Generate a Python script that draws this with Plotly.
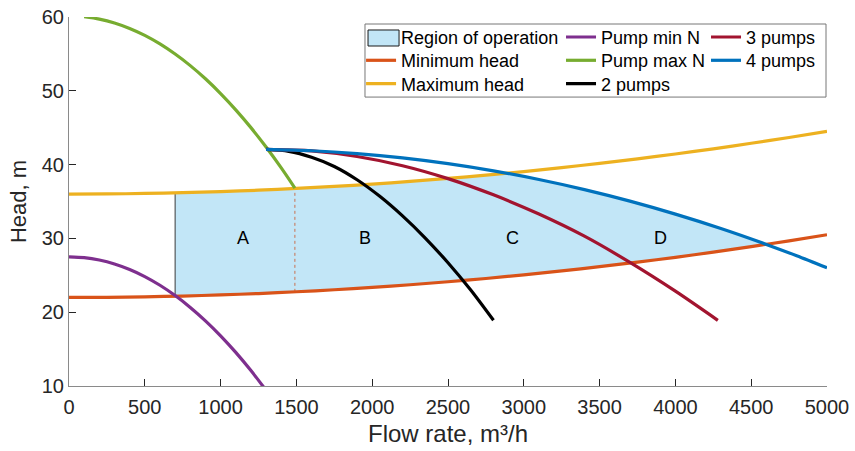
import plotly.graph_objects as go

FONT = "Liberation Sans, Arial, Helvetica, sans-serif"
TXT = "#262626"
AXIS = "#8a8a8a"
REGION_FILL = "rgb(194,230,247)"

# System curves (head limits) sampled along the flow axis, m3/h -> m
SYS_Q = [0, 250, 500, 750, 1000, 1250, 1500, 1750, 2000, 2250, 2500,
         2750, 3000, 3250, 3500, 3750, 4000, 4250, 4500, 4750, 5000]
MAX_HEAD = [36.00, 36.02, 36.09, 36.19, 36.34, 36.53, 36.77, 37.04, 37.36, 37.72, 38.13,
            38.57, 39.06, 39.59, 40.17, 40.78, 41.44, 42.14, 42.89, 43.67, 44.50]
MIN_HEAD = [22.00, 22.02, 22.09, 22.19, 22.34, 22.53, 22.77, 23.04, 23.36, 23.72, 24.13,
            24.57, 25.06, 25.59, 26.17, 26.78, 27.44, 28.14, 28.89, 29.67, 30.50]

# Single pump at minimum and maximum speed
PMIN_Q = [0, 100, 200, 300, 400, 500, 600, 700, 800, 900, 1000, 1100, 1200, 1300]
PMIN_H = [27.5, 27.39, 27.07, 26.54, 25.79, 24.83, 23.65, 22.26, 20.65, 18.83, 16.80, 14.55, 12.09, 9.42]
PMAX_Q = [100, 200, 300, 400, 500, 600, 700, 800, 900, 1000, 1100, 1200, 1300, 1400, 1490]
PMAX_H = [60.03, 59.71, 59.19, 58.45, 57.51, 56.35, 54.98, 53.41, 51.63, 49.63, 47.42, 45.01, 42.38, 39.55, 36.82]

# Parallel operation
P2_Q = [1300, 1450, 1600, 1750, 1900, 2050, 2200, 2350, 2500, 2650, 2800]
P2_H = [42.05, 41.8, 41.0, 39.75, 37.95, 35.7, 33.05, 30.05, 26.7, 23.0, 18.9]
P3_Q = [1300, 1600, 1900, 2200, 2500, 2800, 3100, 3400, 3700, 4000, 4280]
P3_H = [42.05, 41.85, 41.1, 39.85, 38.1, 35.9, 33.3, 30.3, 26.75, 22.85, 18.9]
P4_Q = [1300, 1600, 1900, 2200, 2500, 2800, 3100, 3400, 3700, 4000, 4300, 4600, 4800, 5000]
P4_H = [42.07, 41.88, 41.49, 40.91, 40.13, 39.15, 37.98, 36.61, 35.05, 33.29, 31.34, 29.19, 27.65, 26.02]

# Operating region corners
LEFT_Q, LEFT_LOW, LEFT_HIGH = 700, 22.17, 36.17
TOP_Q, TOP_H = 2890, 38.84
RIGHT_Q, RIGHT_H = 4600, 29.19
DIV_Q, DIV_LOW, DIV_HIGH = 1490, 22.76, 36.78

ZONE_LABELS = ["A", "B", "C", "D"]
ZONE_Q = [1150, 1950, 2925, 3900]
ZONE_H = [30.0, 30.0, 30.0, 30.0]

# Build the region outline: left edge, max head, 4-pump curve, min head back
poly_q = [LEFT_Q, LEFT_Q]
poly_h = [LEFT_LOW, LEFT_HIGH]
for q, h in zip(SYS_Q, MAX_HEAD):
    if LEFT_Q < q < TOP_Q:
        poly_q.append(q); poly_h.append(h)
poly_q.append(TOP_Q); poly_h.append(TOP_H)
for q, h in zip(P4_Q, P4_H):
    if TOP_Q < q < RIGHT_Q:
        poly_q.append(q); poly_h.append(h)
poly_q.append(RIGHT_Q); poly_h.append(RIGHT_H)
for q, h in reversed(list(zip(SYS_Q, MIN_HEAD))):
    if LEFT_Q < q < RIGHT_Q:
        poly_q.append(q); poly_h.append(h)
poly_q.append(LEFT_Q); poly_h.append(LEFT_LOW)

# Legend grid: one small legend per entry, laid out in three columns
COL_X = [0.3853, 0.6491, 0.8404]
ROW_Y = [0.9951, 0.9320, 0.8685]

fig = go.Figure()

fig.add_trace(go.Scatter(
    x=poly_q, y=poly_h, mode="lines", fill="toself",
    fillcolor=REGION_FILL, line=dict(color="#3a3a3a", width=1),
    showlegend=False, hoverinfo="skip"))
# legend entry for the patch (its swatch is drawn as a shape below)
fig.add_trace(go.Scatter(
    x=[None], y=[None], mode="lines", name="Region of operation",
    line=dict(color="rgba(0,0,0,0)", width=0), legend="legend"))

fig.add_trace(go.Scatter(
    x=[DIV_Q, DIV_Q], y=[DIV_LOW, DIV_HIGH], mode="lines",
    line=dict(color="#c87050", width=1, dash="dot"), showlegend=False))

W = 3.2
curves = [
    (SYS_Q, MIN_HEAD, "Minimum head", "#D95319", "legend2"),
    (SYS_Q, MAX_HEAD, "Maximum head", "#EDB120", "legend3"),
    (PMIN_Q, PMIN_H, "Pump min N", "#7E2F8E", "legend4"),
    (PMAX_Q, PMAX_H, "Pump max N", "#77AC30", "legend5"),
    (P2_Q, P2_H, "2 pumps", "#000000", "legend6"),
    (P3_Q, P3_H, "3 pumps", "#A2142F", "legend7"),
    (P4_Q, P4_H, "4 pumps", "#0072BD", "legend8"),
]
for q, h, name, color, lg in curves:
    fig.add_trace(go.Scatter(
        x=q, y=h, mode="lines", name=name,
        line=dict(color=color, width=W, shape="spline", smoothing=0.8), legend=lg))

for lab, q, h in zip(ZONE_LABELS, ZONE_Q, ZONE_H):
    fig.add_annotation(x=q, y=h, text=lab, showarrow=False,
                       font=dict(family=FONT, size=18, color="#000000"))

axis_common = dict(
    showgrid=False, zeroline=False, showline=True, linecolor=AXIS, linewidth=1,
    ticks="inside", ticklen=7, tickcolor=TXT, tickwidth=1, automargin=False,
    tickfont=dict(family=FONT, size=20, color=TXT), mirror=False,
)
fig.update_xaxes(range=[0, 5000], dtick=500, tick0=0, ticklabelstandoff=3,
                 title=dict(text="Flow rate, m³/h", font=dict(family=FONT, size=24, color=TXT), standoff=8),
                 **axis_common)
fig.update_yaxes(range=[10, 60], dtick=10, tick0=0,
                 title=dict(text="Head, m", font=dict(family=FONT, size=22, color=TXT), standoff=9),
                 **axis_common)

leg = dict(yanchor="top", xanchor="left", bgcolor="rgba(0,0,0,0)", borderwidth=0,
           font=dict(family=FONT, size=18, color="#000000"), itemwidth=30,
           tracegroupgap=0, orientation="v")
slots = [(0, 0), (0, 1), (0, 2), (1, 0), (1, 1), (1, 2), (2, 0), (2, 1)]
legends = {}
for i, (c, r) in enumerate(slots):
    key = "legend" if i == 0 else f"legend{i + 1}"
    legends[key] = dict(x=COL_X[c], y=ROW_Y[r], **leg)

fig.update_layout(
    width=855, height=451,
    margin=dict(l=69, r=28, t=17, b=65),
    paper_bgcolor="white", plot_bgcolor="white",
    font=dict(family=FONT, color=TXT),
    shapes=[
        dict(type="rect", xref="paper", yref="paper", x0=0.3905, x1=0.9987,
             y0=0.783, y1=0.981, line=dict(color="#777777", width=1), layer="above"),
        dict(type="rect", xref="paper", yref="paper", x0=0.3945, x1=0.4354,
             y0=0.9214, y1=0.9648, fillcolor=REGION_FILL,
             line=dict(color="#1a1a1a", width=1), layer="above"),
    ],
    **legends,
)

fig.write_html("out.html")
